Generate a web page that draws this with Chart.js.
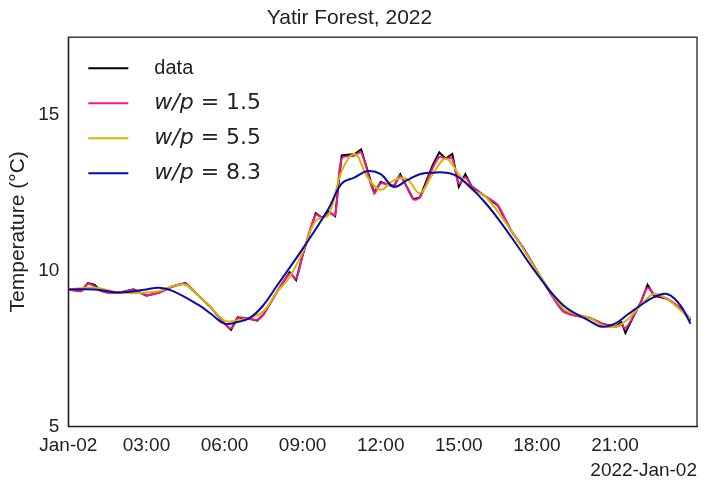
<!DOCTYPE html>
<html>
<head>
<meta charset="utf-8">
<script src="https://cdn.jsdelivr.net/npm/chart.js@4"></script>
<style>
  body { margin: 0; background: #fff; }
  #wrap { width: 707px; height: 488px; }
</style>
</head>
<body>
<div id="wrap"><canvas id="c" width="707" height="488"></canvas></div>
<script>
// hours since Jan-02 00:00
const dataHours = [0, 0.5, 0.75, 1, 1.25, 1.5, 2, 2.5, 3, 3.5, 4, 4.5, 5, 5.5, 6, 6.25, 6.5, 7, 7.25, 7.5, 8, 8.5, 8.75, 9, 9.5, 9.75, 10, 10.25, 10.5, 11, 11.25, 11.75, 12, 12.5, 12.75, 13.25, 13.5, 14, 14.25, 14.5, 14.75, 15, 15.25, 15.5, 16, 16.5, 17, 17.5, 18, 18.5, 19, 19.5, 20, 20.5, 21, 21.25, 21.4, 21.75, 22, 22.25, 22.5, 23, 23.5, 23.9];
const dataTemp  = [9.4, 9.35, 9.6, 9.55, 9.35, 9.3, 9.3, 9.4, 9.2, 9.3, 9.5, 9.6, 9.2, 8.8, 8.3, 8.1, 8.5, 8.45, 8.4, 8.6, 9.3, 9.95, 9.7, 10.5, 11.85, 11.7, 11.9, 11.75, 13.7, 13.75, 13.9, 12.5, 12.85, 12.7, 13.1, 12.3, 12.35, 13.4, 13.8, 13.6, 13.75, 12.7, 13.1, 12.7, 12.4, 12.1, 11.3, 10.7, 10.0, 9.3, 8.7, 8.55, 8.5, 8.3, 8.2, 8.35, 8.0, 8.6, 9.0, 9.55, 9.2, 9.1, 8.8, 8.4];
const wp15Temp  = [9.4, 9.35, 9.58, 9.5, 9.35, 9.3, 9.3, 9.38, 9.22, 9.3, 9.48, 9.58, 9.2, 8.8, 8.3, 8.15, 8.48, 8.45, 8.42, 8.6, 9.3, 9.9, 9.75, 10.5, 11.8, 11.7, 11.85, 11.8, 13.6, 13.7, 13.8, 12.5, 12.8, 12.75, 13.05, 12.3, 12.35, 13.3, 13.65, 13.6, 13.6, 12.8, 13.0, 12.7, 12.4, 12.1, 11.3, 10.7, 10.0, 9.3, 8.7, 8.55, 8.5, 8.3, 8.2, 8.25, 8.15, 8.6, 9.0, 9.45, 9.25, 9.1, 8.8, 8.45];
const wp55Hours = [0, 1, 2, 3, 3.5, 4, 4.5, 5, 5.5, 6, 6.5, 7, 7.5, 8, 8.5, 9, 9.5, 10, 10.5, 11, 11.5, 12, 12.5, 13, 13.5, 14, 14.5, 15, 15.5, 16, 17, 18, 19, 19.5, 20, 20.5, 21, 21.5, 22, 22.5, 23, 23.5, 23.9];
const wp55Temp  = [9.4, 9.45, 9.3, 9.3, 9.35, 9.5, 9.55, 9.2, 8.8, 8.4, 8.4, 8.5, 8.7, 9.3, 9.8, 10.6, 11.6, 11.8, 13.2, 13.75, 13.0, 12.6, 12.9, 12.95, 12.5, 13.1, 13.6, 13.1, 12.6, 12.4, 11.3, 10.0, 8.8, 8.6, 8.5, 8.25, 8.2, 8.45, 8.9, 9.25, 9.1, 8.75, 8.45];
const wp83Hours = [0, 1, 2, 3, 3.5, 4, 5, 5.5, 6, 6.5, 7, 7.5, 8, 9, 10, 10.5, 11, 11.5, 12, 12.5, 13, 13.5, 14, 14.5, 15, 16, 17, 18, 19, 20, 20.5, 21, 21.5, 22, 22.5, 23, 23.5, 23.9];
const wp83Temp  = [9.4, 9.4, 9.3, 9.4, 9.45, 9.35, 8.9, 8.6, 8.3, 8.35, 8.5, 8.9, 9.5, 10.7, 12.0, 12.8, 13.0, 13.2, 13.1, 12.7, 12.9, 13.1, 13.15, 13.15, 13.0, 12.2, 11.1, 9.9, 8.9, 8.4, 8.2, 8.3, 8.6, 8.9, 9.15, 9.25, 8.9, 8.3];
const tickHours = [0, 3, 6, 9, 12, 15, 18, 21];
const tickLabels = ['Jan-02', '03:00', '06:00', '09:00', '12:00', '15:00', '18:00', '21:00'];
const yTicks = [5, 10, 15];

function pts(xs, ys) { return xs.map((x, i) => ({ x: x, y: ys[i] })); }

Chart.defaults.font.family = 'Liberation Sans';
Chart.defaults.color = '#222';

new Chart(document.getElementById('c'), {
  type: 'line',
  data: {
    datasets: [
      { label: 'data', data: pts(dataHours, dataTemp), borderColor: '#000000', tension: 0, order: 4 },
      { label: '1.5', data: pts(dataHours, wp15Temp), borderColor: '#f0198c', tension: 0.3, order: 3 },
      { label: '5.5', data: pts(wp55Hours, wp55Temp), borderColor: '#d4b800', tension: 0.4, order: 2 },
      { label: '8.3', data: pts(wp83Hours, wp83Temp), borderColor: '#0a0aaa', tension: 0.4, order: 1 }
    ]
  },
  options: {
    responsive: false,
    animation: false,
    elements: { point: { radius: 0 }, line: { borderWidth: 2 } },
    layout: { padding: { left: 2, right: 10, top: 4, bottom: 2 } },
    plugins: {
      title: { display: true, text: 'Yatir Forest, 2022', font: { size: 21, weight: 'normal' }, padding: { top: 2, bottom: 6 } },
      legend: { display: false },
      tooltip: { enabled: false }
    },
    scales: {
      x: {
        type: 'linear', min: 0, max: 24.15,
        afterBuildTicks: s => { s.ticks = tickHours.map(v => ({ value: v })); },
        ticks: { font: { size: 19 }, maxRotation: 0, padding: 2, callback: v => tickLabels[tickHours.indexOf(v)] },
        grid: { display: false, drawTicks: true, tickLength: 6, tickColor: '#222' },
        border: { color: '#222', width: 1.3 },
        title: { display: true, text: '2022-Jan-02', align: 'end', font: { size: 19 }, padding: { top: 0 } }
      },
      y: {
        min: 5, max: 17.5,
        afterBuildTicks: s => { s.ticks = yTicks.map(v => ({ value: v })); },
        ticks: { font: { size: 19 } },
        grid: { display: false, drawTicks: true, tickLength: 6, tickColor: '#222' },
        border: { color: '#222', width: 1.3 },
        title: { display: true, text: 'Temperature (°C)', font: { size: 21 }, padding: { bottom: 4 } }
      }
    }
  },
  plugins: [{
    id: 'frameLegend',
    afterDraw(chart) {
      const a = chart.chartArea, ctx = chart.ctx;
      ctx.save();
      ctx.strokeStyle = '#222'; ctx.lineWidth = 1.3;
      ctx.strokeRect(a.left, a.top, a.right - a.left, a.bottom - a.top);
      ctx.textBaseline = 'middle';
      chart.data.datasets.forEach((ds, i) => {
        const y = a.top + 31 + i * 35, x0 = a.left + 20;
        ctx.strokeStyle = ds.borderColor; ctx.lineWidth = 2;
        ctx.beginPath(); ctx.moveTo(x0, y); ctx.lineTo(x0 + 40, y); ctx.stroke();
        ctx.fillStyle = '#222';
        let x = x0 + 66;
        if (i === 0) {
          ctx.font = '20px Liberation Sans'; ctx.fillText('data', x, y);
        } else {
          ctx.font = 'italic 22px Liberation Serif';
          ctx.font = 'italic 22px DejaVu Sans';
          ctx.fillText('w/p', x, y);
          x += ctx.measureText('w/p').width;
          ctx.font = '22px DejaVu Sans';
          ctx.fillText(' = ' + ds.label, x, y);
        }
      });
      ctx.restore();
    }
  }]
});
</script>
</body>
</html>
